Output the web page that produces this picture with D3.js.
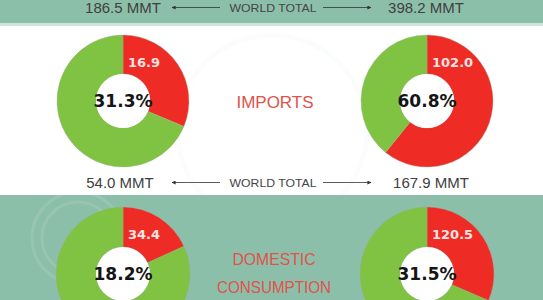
<!DOCTYPE html>
<html>
<head>
<meta charset="utf-8">
<script src="https://cdn.jsdelivr.net/npm/d3@7"></script>
<style>
  html, body { margin: 0; padding: 0; background: #fff; }
  svg { display: block; }
</style>
</head>
<body>
<div id="chart"></div>
<script>
// columns: left = first country, right = second
const columns = ['left', 'right'];

// top strip (section cut off above) world totals
const topTotals = [186.5, 398.2];

// imports
const importRed = [16.9, 102.0];
const importPct = [31.3, 60.8];
const importTotals = [54.0, 167.9];

// domestic consumption
const consRed = [34.4, 120.5];
const consPct = [18.2, 31.5];

const W = 543, H = 300;
const TEAL = '#8cbfaa';
const GREEN = '#80c342';
const RED = '#ef2b26';
const TITLE_RED = '#e0524b';
const VERDANA = '"DejaVu Sans", Verdana, sans-serif';

const svg = d3.select('#chart').append('svg')
  .attr('width', W)
  .attr('height', H);

// backgrounds
svg.append('rect').attr('x', 0).attr('y', 0).attr('width', W).attr('height', 24).attr('fill', TEAL);
svg.append('rect').attr('x', 0).attr('y', 23).attr('width', W).attr('height', 3).attr('fill', '#cfe5db');
svg.append('rect').attr('x', 0).attr('y', 195).attr('width', W).attr('height', H - 195).attr('fill', TEAL);

// faint watermark
const wm = svg.append('g').attr('fill', 'none').attr('stroke', '#ffffff').attr('stroke-opacity', 0.1).attr('stroke-width', 3);
wm.append('circle').attr('cx', 78).attr('cy', 238).attr('r', 46);
wm.append('circle').attr('cx', 78).attr('cy', 238).attr('r', 36);
svg.append('circle').attr('cx', 272).attr('cy', 130).attr('r', 95)
  .attr('fill', 'none').attr('stroke', '#8cbfaa').attr('stroke-opacity', 0.035).attr('stroke-width', 5);

const x = d3.scalePoint().domain(columns).range([123, 427]);

const pie = d3.pie().sort(null).value(d => d.v);

function donut(cx, cy, rOut, rIn, pct, redVal) {
  const g = svg.append('g').attr('transform', `translate(${cx},${cy})`);
  const arc = d3.arc().innerRadius(rIn).outerRadius(rOut);
  const parts = pie([{ k: 'red', v: pct }, { k: 'green', v: 100 - pct }]);
  g.selectAll('path')
    .data(parts)
    .join('path')
    .attr('d', arc)
    .attr('fill', d => d.data.k === 'red' ? RED : GREEN)
    .attr('stroke', '#a0a890')
    .attr('stroke-width', 0.4);
  g.append('circle').attr('r', rIn).attr('fill', '#fff');
  g.append('text')
    .attr('x', 5)
    .attr('y', -rOut + 32)
    .attr('fill', '#fbe4e2')
    .attr('font-family', VERDANA)
    .attr('font-weight', 'bold')
    .attr('font-size', 13)
    .text(redVal.toFixed(1));
  g.append('text')
    .attr('x', 0)
    .attr('y', 6)
    .attr('text-anchor', 'middle')
    .attr('fill', '#151515')
    .attr('font-family', VERDANA)
    .attr('font-weight', 'bold')
    .attr('font-size', 17)
    .text(pct.toFixed(1) + '%');
}

columns.forEach((c, i) => {
  donut(x(c), 101, 66, 27, importPct[i], importRed[i]);
  donut(x(c), 274, 67, 27, consPct[i], consRed[i]);
});

// world total rows
svg.append('defs').append('marker')
  .attr('id', 'ah')
  .attr('viewBox', '0 0 10 10')
  .attr('refX', 9).attr('refY', 5)
  .attr('markerWidth', 5).attr('markerHeight', 5)
  .attr('orient', 'auto-start-reverse')
  .append('path').attr('d', 'M0,0L10,5L0,10z').attr('fill', '#333');

function totalRow(y, totals, xs) {
  svg.selectAll(null)
    .data(totals)
    .join('text')
    .attr('x', (d, i) => xs[i])
    .attr('y', y + 5.5)
    .attr('text-anchor', 'middle')
    .attr('fill', '#404040')
    .attr('font-family', 'Arial, "Liberation Sans", sans-serif')
    .attr('font-size', 15)
    .text(d => d.toFixed(1) + ' MMT');
  svg.append('text')
    .attr('x', 273).attr('y', y + 4)
    .attr('text-anchor', 'middle')
    .attr('fill', '#454545')
    .attr('font-family', 'Arial, sans-serif')
    .attr('font-size', 11.5)
    .attr('textLength', 87)
    .attr('lengthAdjust', 'spacingAndGlyphs')
    .text('WORLD TOTAL');
  svg.append('line')
    .attr('x1', 220).attr('y1', y).attr('x2', 172).attr('y2', y)
    .attr('stroke', '#333').attr('stroke-width', 0.8)
    .attr('marker-end', 'url(#ah)');
  svg.append('line')
    .attr('x1', 323).attr('y1', y).attr('x2', 371).attr('y2', y)
    .attr('stroke', '#333').attr('stroke-width', 0.8)
    .attr('marker-end', 'url(#ah)');
}
totalRow(7.5, topTotals, [123, 426]);
totalRow(182.5, importTotals, [120, 431]);

// section titles
svg.append('text')
  .attr('x', 275).attr('y', 108)
  .attr('text-anchor', 'middle')
  .attr('fill', TITLE_RED)
  .attr('font-family', 'Arial, sans-serif')
  .attr('font-size', 17)
  .text('IMPORTS');

['DOMESTIC', 'CONSUMPTION'].forEach((t, i) => {
  svg.append('text')
    .attr('x', 274).attr('y', 265 + i * 28)
    .attr('text-anchor', 'middle')
    .attr('fill', TITLE_RED)
    .attr('font-family', 'Arial, sans-serif')
    .attr('font-size', 17)
    .attr('textLength', i === 0 ? 83 : 114)
    .attr('lengthAdjust', 'spacingAndGlyphs')
    .text(t);
});
</script>
</body>
</html>
